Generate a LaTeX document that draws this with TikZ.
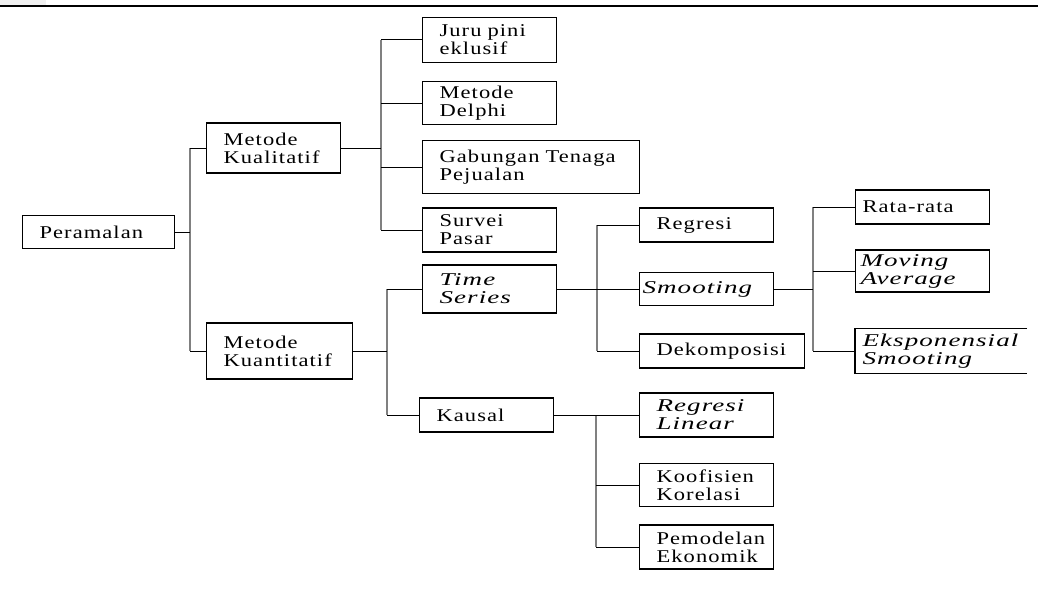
\documentclass[tikz,border=0pt]{standalone}
\usepackage{fontspec}
\setmainfont{Liberation Serif}[FakeStretch=1.25, LetterSpace=6, ItalicFeatures={FakeStretch=1.5}]
\hyphenpenalty=10000
\exhyphenpenalty=10000

\begin{document}
\begin{tikzpicture}[x=1pt, y=-1pt,
    box/.style={draw, line width=1.1pt, anchor=west, align=left, inner xsep=17pt, inner ysep=0pt,
      font=\fontsize{18}{18}\selectfont},
    conn/.style={line width=1pt},
    bus/.style={line width=1.8pt, draw=black!50}]
  \useasboundingbox (0,0) rectangle (1038,594);
  \fill[black!6] (0,0) rectangle (46,5);
  \draw[line width=2.2pt] (0,6) -- (1038,6);

  % boxes
  \node[box, text width=118pt, minimum height=33pt] (ram) at (22,232) {Peramalan};
  \node[box, text width=100pt, minimum height=50pt] (kual) at (206,148) {Metode\\Kualitatif};
  \node[box, text width=112pt, minimum height=56pt] (kuan) at (206,351) {Metode\\Kuantitatif};

  \node[box, text width=100pt, minimum height=45pt] (jur) at (422,40) {Juru pini\\eklusif};
  \node[box, text width=100pt, minimum height=43pt] (del) at (422,103) {Metode\\Delphi};
  \node[box, text width=183pt, minimum height=53pt] (gab) at (422,167) {Gabungan Tenaga\\Pejualan};
  \node[box, text width=100pt, minimum height=44pt] (sur) at (422,230) {Survei\\Pasar};

  \node[box, text width=100pt, minimum height=48pt] (ts) at (422,289) {\textit{Time}\\\textit{Series}};
  \node[box, text width=100pt, minimum height=34pt] (kau) at (419,415) {Kausal};

  \node[box, text width=100pt, minimum height=34pt] (reg) at (639,225) {Regresi};
  \node[box, inner xsep=3pt, text width=128pt, minimum height=33pt] (smo) at (639,289) {\textit{Smooting}};
  \node[box, text width=131pt, minimum height=34pt] (dek) at (639,351) {Dekomposisi};

  \node[box, inner xsep=7pt, text width=120pt, minimum height=34pt] (rat) at (855,207) {Rata-rata};
  \node[box, inner xsep=5pt, text width=124pt, minimum height=42pt] (mov) at (855,271) {\textit{Moving}\\\textit{Average}};
  \node[box, draw=none, inner xsep=7pt, text width=157pt, minimum height=44pt] (eks) at (855,351) {\textit{Eksponensial}\\\textit{Smooting}};
  \draw[line width=1.1pt] (eks.north east) -- (eks.north west) -- (eks.south west) -- (eks.south east);

  \node[box, text width=100pt, minimum height=44pt] (rl) at (639,415) {\textit{Regresi}\\\textit{Linear}};
  \node[box, text width=100pt, minimum height=43pt] (koo) at (639,485) {Koofisien\\Korelasi};
  \node[box, text width=100pt, minimum height=44pt] (pem) at (639,547) {Pemodelan\\Ekonomik};

  % bus lines
  \coordinate (b1) at (190,0);
  \coordinate (b2) at (381,0);
  \coordinate (b3) at (387,0);
  \coordinate (b4) at (597,0);
  \coordinate (b5) at (596,0);
  \coordinate (b6) at (813,0);

  \draw[bus] (kual.west -| b1) -- (kuan.west -| b1);
  \draw[bus] (jur.west -| b2) -- (sur.west -| b2);
  \draw[bus] (ts.west -| b3) -- (kau.west -| b3);
  \draw[bus] (reg.west -| b4) -- (dek.west -| b4);
  \draw[bus] (rl.west -| b5) -- (pem.west -| b5);
  \draw[bus] (rat.west -| b6) -- (eks.west -| b6);

  % connectors
  \draw[conn] (ram.east) -- (ram.east -| b1);
  \draw[conn] (kual.east) -- (kual.east -| b2);
  \draw[conn] (kuan.east) -- (kuan.east -| b3);
  \draw[conn] (ts.east) -- (ts.east -| b4);
  \draw[conn] (kau.east) -- (kau.east -| b5);
  \draw[conn] (smo.east) -- (smo.east -| b6);
  \foreach \c in {kual,kuan} \draw[conn] (\c.west -| b1) -- (\c.west);
  \foreach \c in {jur,del,gab,sur} \draw[conn] (\c.west -| b2) -- (\c.west);
  \foreach \c in {ts,kau} \draw[conn] (\c.west -| b3) -- (\c.west);
  \foreach \c in {reg,smo,dek} \draw[conn] (\c.west -| b4) -- (\c.west);
  \foreach \c in {rl,koo,pem} \draw[conn] (\c.west -| b5) -- (\c.west);
  \foreach \c in {rat,mov,eks} \draw[conn] (\c.west -| b6) -- (\c.west);
\end{tikzpicture}
\end{document}
